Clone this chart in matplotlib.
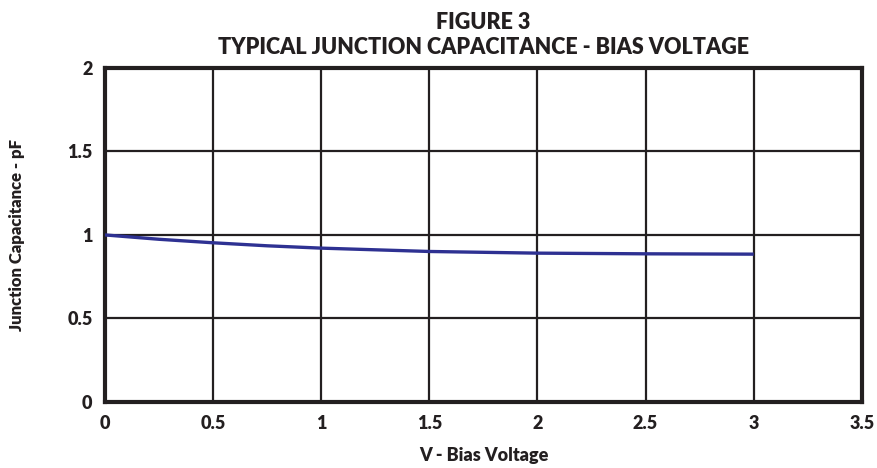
import numpy as np
import matplotlib
matplotlib.use('Agg')
import matplotlib.pyplot as plt

plt.rcParams['font.family'] = ['Lato', 'DejaVu Sans']
plt.rcParams['font.weight'] = 'heavy'

# curve
bias_v = [0, 0.25, 0.5, 0.75, 1.0, 1.5, 2.0, 2.5, 3.0]
cap_pf = [1.0, 0.974, 0.953, 0.935, 0.921, 0.901, 0.891, 0.887, 0.885]

x_ticks = [0, 0.5, 1, 1.5, 2, 2.5, 3, 3.5]
x_tick_labels = ['0', '0.5', '1', '1.5', '2', '2.5', '3', '3.5']
y_ticks = [0, 0.5, 1, 1.5, 2]
y_tick_labels = ['0', '0.5', '1', '1.5', '2']

fig = plt.figure(figsize=(8.78, 4.68), dpi=100)
ax = fig.add_axes([0.1196, 0.141, 0.862, 0.714])

ax.plot(bias_v, cap_pf, color='#2E3192', linewidth=2.4, solid_capstyle='butt', zorder=3)

ax.set_xlim(0, 3.5)
ax.set_ylim(0, 2)
ax.set_xticks(x_ticks)
ax.set_xticklabels(x_tick_labels)
ax.set_yticks(y_ticks)
ax.set_yticklabels(y_tick_labels)
ax.tick_params(length=0, labelsize=13, pad=9, colors='#231f20')
ax.grid(True, color='#231f20', linewidth=1.6)
for s in ax.spines.values():
    s.set_linewidth(3)
    s.set_color('#231f20')

ax.set_xlabel('V - Bias Voltage', fontsize=13, fontweight='heavy', labelpad=11, color='#231f20')
ax.set_ylabel('Junction Capacitance - pF', fontsize=12, fontweight='heavy', labelpad=30, color='#231f20')
ax.set_title('FIGURE 3\nTYPICAL JUNCTION CAPACITANCE - BIAS VOLTAGE', fontsize=15.5, fontweight='heavy',
             color='#231f20', pad=10, linespacing=1.25)

plt.savefig('out.png', dpi=100)
